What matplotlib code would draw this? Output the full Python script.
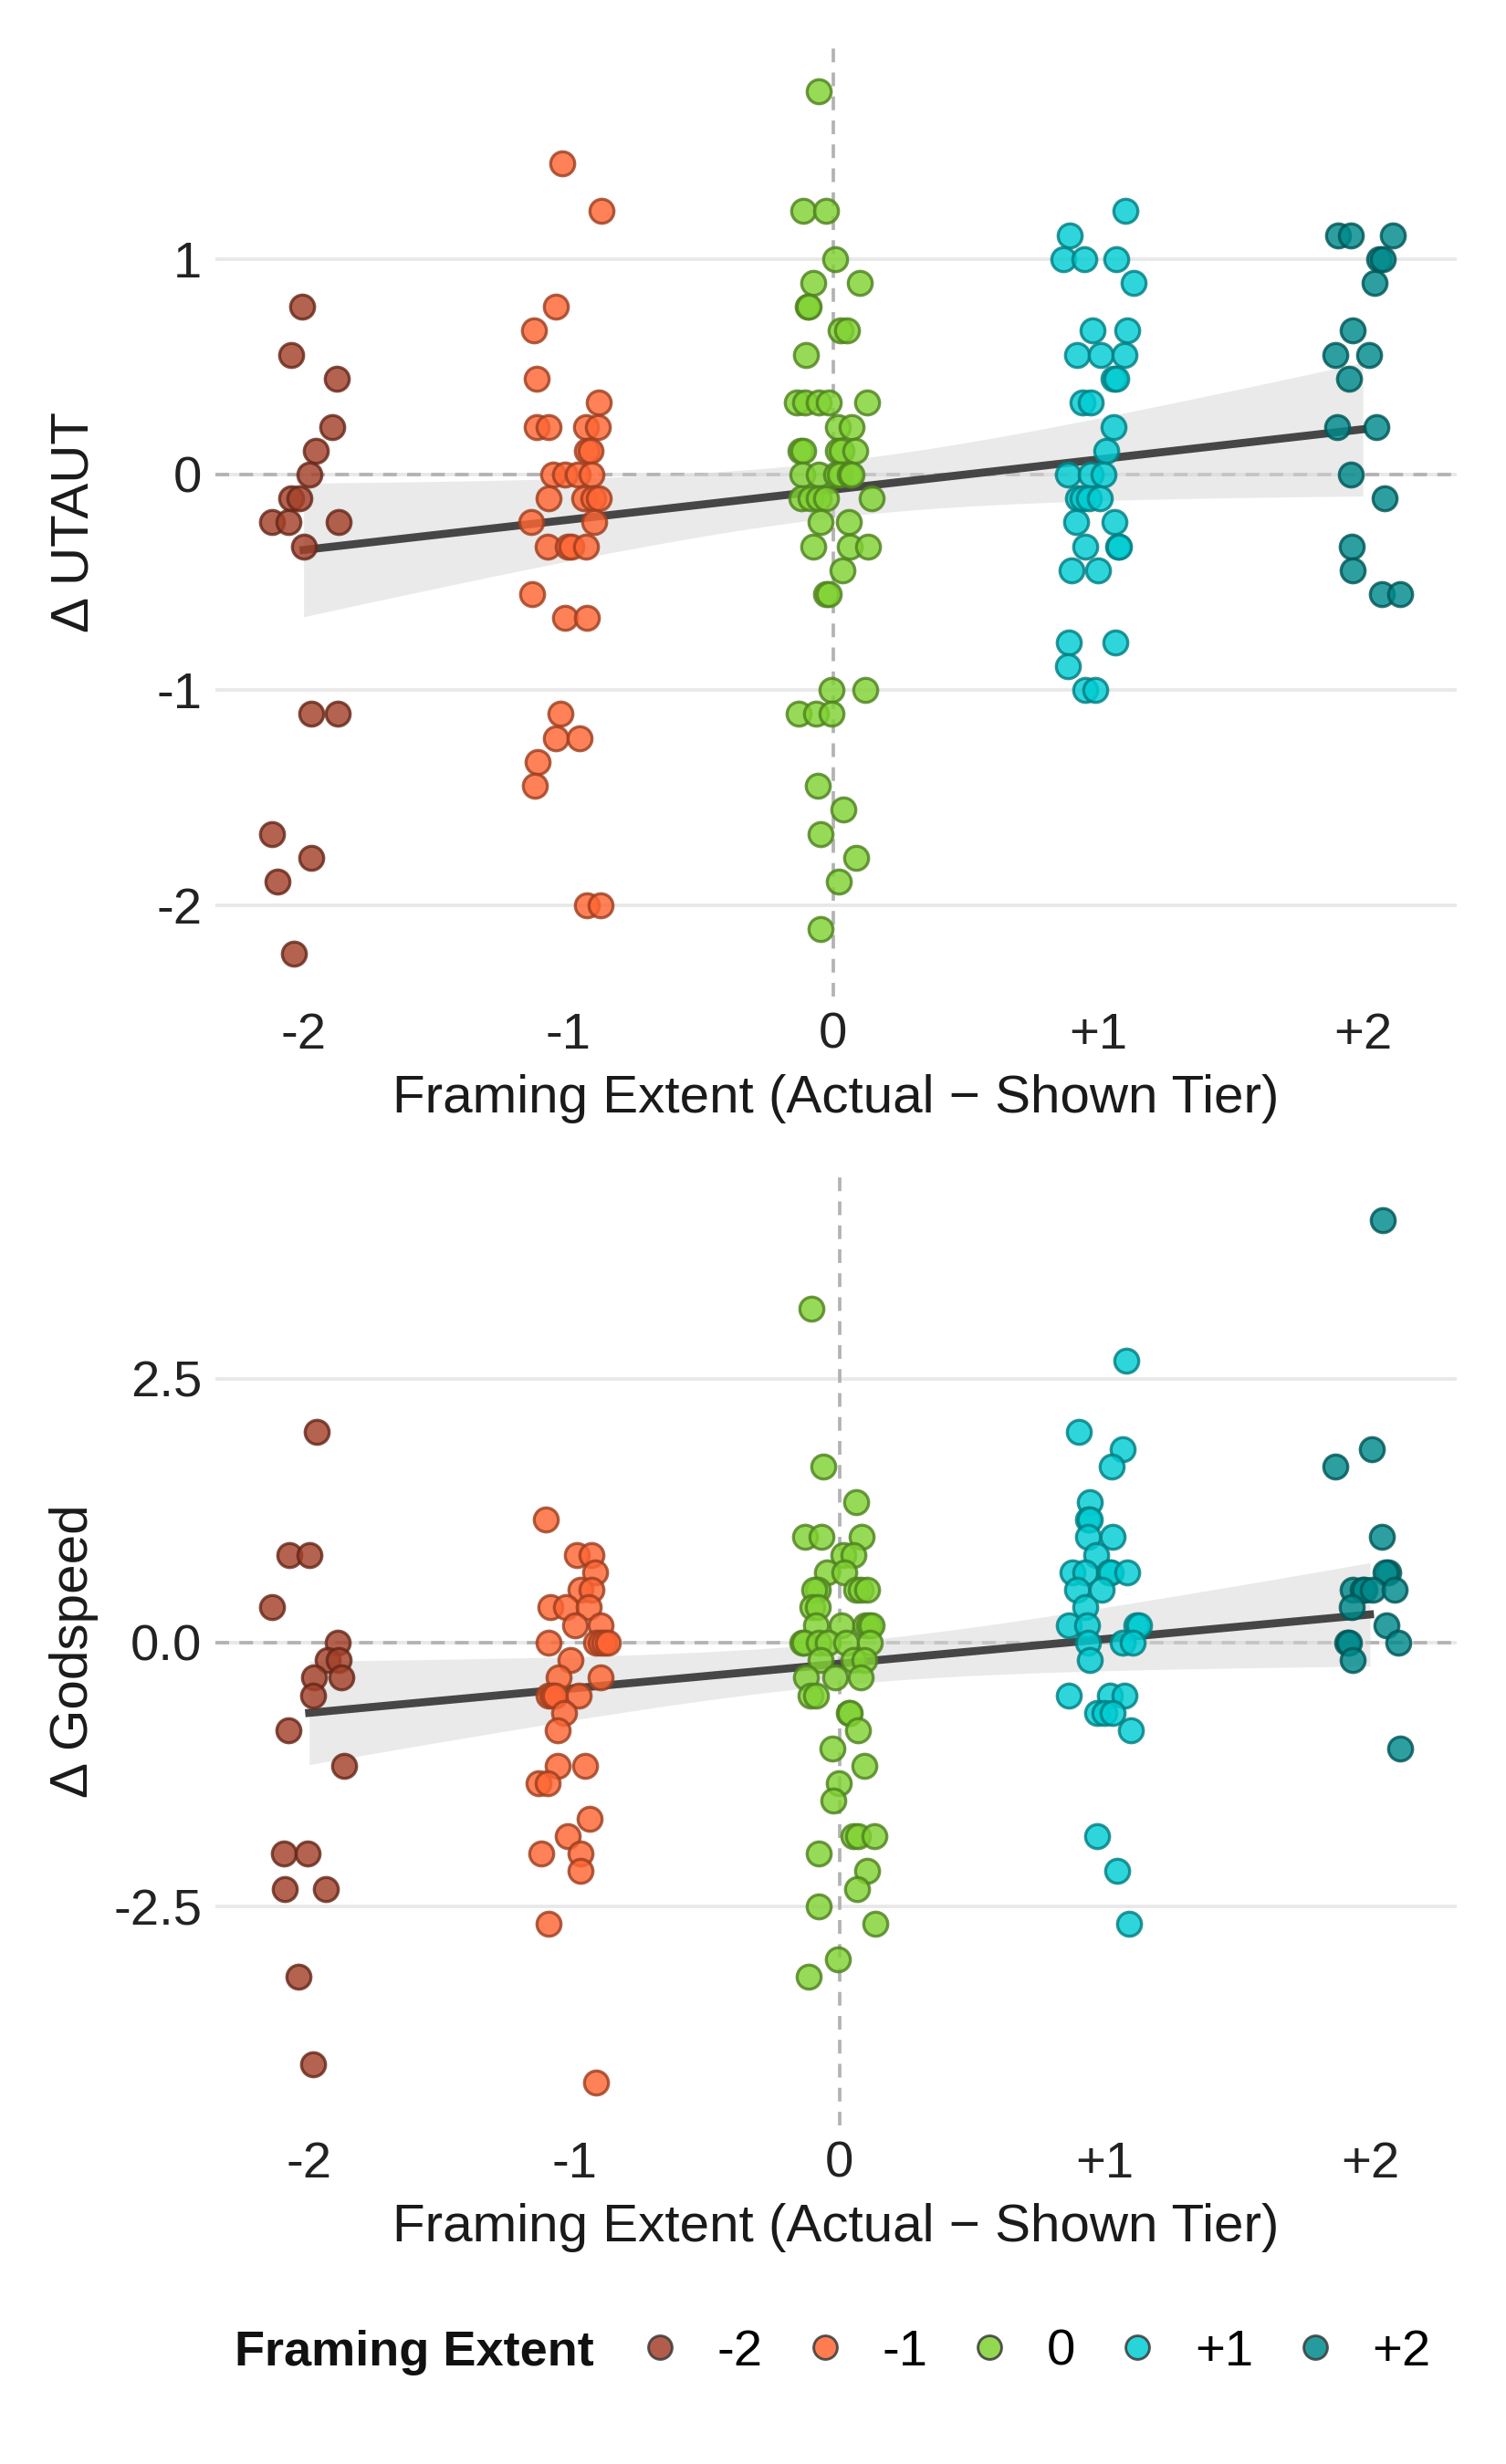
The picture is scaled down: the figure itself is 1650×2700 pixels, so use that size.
import numpy as np
import matplotlib
matplotlib.use("Agg")
import matplotlib.pyplot as plt
from matplotlib.lines import Line2D
import matplotlib.colors as mcolors

plt.rcParams["font.family"] = ["Liberation Sans", "DejaVu Sans"]
plt.rcParams["axes.unicode_minus"] = False

# ---------------- data ----------------
LEVELS = [-2, -1, 0, 1, 2]
LEVEL_LABELS = ["-2", "-1", "0", "+1", "+2"]
COLORS = ["#A4412A", "#FF6533", "#80D232", "#00CDD3", "#008A8C"]

# Delta UTAUT (x = jittered framing extent as drawn, y = value)
UT_M2_X = [-2.004, -2.048, -1.875, -1.890, -1.953, -1.979, -2.048, -2.016, -2.120, -2.056,
           -1.866, -2.000, -1.970, -1.870, -2.120, -1.970, -2.097, -2.038]
UT_M2_Y = [0.778, 0.556, 0.444, 0.222, 0.111, 0.0, -0.111, -0.111, -0.222, -0.222,
           -0.222, -0.333, -1.111, -1.111, -1.667, -1.778, -1.889, -2.222]

UT_M1_X = [-1.022, -0.875, -1.048, -1.129, -1.120, -0.884, -1.120, -1.074, -0.933, -0.890,
           -0.930, -0.918, -1.056, -1.014, -0.964, -0.913, -1.076, -0.941, -0.907, -0.884,
           -1.139, -0.901, -1.079, -1.004, -0.987, -0.933, -1.136, -1.012, -0.929, -1.031,
           -1.047, -0.956, -1.117, -1.128, -0.930, -0.877]
UT_M1_Y = [1.444, 1.222, 0.778, 0.667, 0.444, 0.333, 0.222, 0.222, 0.222, 0.222,
           0.111, 0.111, 0.0, 0.0, 0.0, 0.0, -0.111, -0.111, -0.111, -0.111,
           -0.222, -0.222, -0.333, -0.333, -0.333, -0.333, -0.556, -0.667, -0.667, -1.111,
           -1.222, -1.222, -1.333, -1.444, -2.0, -2.0]

UT_0_X = [-0.053, -0.114, -0.028, 0.007, -0.077, 0.101, -0.097, -0.091, 0.028, 0.053,
          -0.104, -0.137, -0.108, -0.054, -0.016, 0.128, 0.018, 0.070, -0.125, -0.114,
          0.018, 0.030, 0.082, -0.116, -0.054, 0.012, 0.023, 0.062, 0.070, -0.120,
          -0.085, -0.056, -0.028, 0.145, -0.047, 0.059, -0.077, 0.061, 0.130, 0.036,
          -0.028, -0.016, -0.008, 0.122, -0.131, -0.066, -0.008, -0.059, 0.038, -0.048,
          0.087, 0.021, -0.048]
UT_0_Y = [1.778, 1.222, 1.222, 1.0, 0.889, 0.889, 0.778, 0.778, 0.667, 0.667,
          0.556, 0.333, 0.333, 0.333, 0.333, 0.333, 0.222, 0.222, 0.111, 0.111,
          0.111, 0.111, 0.111, 0.0, 0.0, 0.0, 0.0, 0.0, 0.0, -0.111,
          -0.111, -0.111, -0.111, -0.111, -0.222, -0.222, -0.333, -0.333, -0.333, -0.444,
          -0.556, -0.556, -1.0, -1.0, -1.111, -1.111, -1.111, -1.444, -1.556, -1.667,
          -1.778, -1.889, -2.111]

UT_P1_X = [1.103, 0.893, 0.869, 0.947, 1.070, 1.134, 0.979, 1.109, 0.921, 1.010,
           1.100, 1.057, 1.070, 0.940, 0.974, 1.060, 1.032, 0.885, 0.972, 1.019,
           0.924, 0.941, 0.967, 1.008, 0.918, 1.063, 0.951, 1.076, 1.080, 0.901,
           1.001, 0.890, 1.066, 0.885, 0.953, 0.990]
UT_P1_Y = [1.222, 1.111, 1.0, 1.0, 1.0, 0.889, 0.667, 0.667, 0.556, 0.556,
           0.556, 0.444, 0.444, 0.333, 0.333, 0.222, 0.111, 0.0, 0.0, 0.0,
           -0.111, -0.111, -0.111, -0.111, -0.222, -0.222, -0.333, -0.333, -0.333, -0.444,
           -0.444, -0.778, -0.778, -0.889, -1.0, -1.0]

UT_P2_X = [1.907, 1.953, 2.113, 2.061, 2.076, 2.044, 1.963, 1.897, 2.024, 1.948,
           1.903, 2.052, 1.956, 2.082, 1.959, 1.963, 2.072, 2.141]
UT_P2_Y = [1.111, 1.111, 1.111, 1.0, 1.0, 0.889, 0.667, 0.556, 0.556, 0.444,
           0.222, 0.222, 0.0, -0.111, -0.333, -0.444, -0.556, -0.556]

# Delta Godspeed
GS_M2_X = [-1.971, -2.076, -1.999, -2.141, -1.892, -1.929, -1.890, -1.982, -1.880, -1.985,
           -2.077, -1.869, -2.096, -2.006, -2.093, -1.938, -2.039, -1.985]
GS_M2_Y = [2.0, 0.833, 0.833, 0.333, 0.0, -0.167, -0.167, -0.333, -0.333, -0.5,
           -0.833, -1.167, -2.0, -2.0, -2.333, -2.333, -3.167, -4.0]

GS_M1_X = [-1.109, -0.992, -0.937, -0.922, -0.977, -0.937, -1.090, -1.033, -0.947, -0.996,
           -0.901, -1.096, -0.918, -0.901, -0.889, -0.872, -1.016, -1.061, -0.901, -1.098,
           -1.084, -1.073, -0.983, -1.038, -1.062, -1.063, -0.958, -1.136, -1.100, -0.941,
           -1.024, -1.126, -0.977, -0.978, -1.098, -0.918]
GS_M1_Y = [1.167, 0.833, 0.833, 0.667, 0.5, 0.5, 0.333, 0.333, 0.333, 0.167,
           0.167, 0.0, 0.0, 0.0, 0.0, 0.0, -0.167, -0.333, -0.333, -0.5,
           -0.5, -0.5, -0.5, -0.667, -0.833, -1.167, -1.167, -1.333, -1.333, -1.667,
           -1.833, -2.0, -2.0, -2.167, -2.667, -4.167]

GS_0_X = [-0.106, -0.063, 0.063, -0.131, -0.069, 0.083, 0.013, 0.052, -0.046, 0.017,
          -0.082, -0.095, 0.063, 0.080, 0.103, -0.101, -0.083, -0.089, 0.006, 0.097,
          0.109, 0.120, -0.140, -0.132, -0.080, -0.044, 0.023, 0.115, -0.071, 0.052,
          0.094, -0.126, -0.015, 0.080, -0.109, -0.089, 0.034, 0.040, 0.071, -0.028,
          0.095, -0.003, -0.022, 0.052, 0.069, 0.132, -0.077, 0.103, 0.065, -0.078,
          0.135, -0.006, -0.118]
GS_0_Y = [3.167, 1.667, 1.333, 1.0, 1.0, 1.0, 0.833, 0.833, 0.667, 0.667,
          0.5, 0.5, 0.5, 0.5, 0.5, 0.333, 0.333, 0.167, 0.167, 0.167,
          0.167, 0.167, 0.0, 0.0, 0.0, 0.0, 0.0, 0.0, -0.167, -0.167,
          -0.167, -0.333, -0.333, -0.333, -0.5, -0.5, -0.667, -0.667, -0.833, -1.0,
          -1.167, -1.333, -1.5, -1.833, -1.833, -1.833, -2.0, -2.167, -2.333, -2.5,
          -2.667, -3.0, -3.167]

GS_P1_X = [1.082, 0.903, 1.066, 1.027, 0.942, 0.936, 0.944, 0.936, 1.030, 0.966,
           0.877, 0.927, 1.016, 1.023, 1.084, 0.897, 0.989, 0.926, 0.864, 0.933,
           1.119, 1.130, 0.935, 1.067, 1.107, 0.944, 0.863, 1.019, 1.076, 0.972,
           0.998, 1.030, 1.100, 0.971, 1.046, 1.091]
GS_P1_Y = [2.667, 2.0, 1.833, 1.667, 1.333, 1.167, 1.167, 1.0, 1.0, 0.833,
           0.667, 0.667, 0.667, 0.667, 0.667, 0.5, 0.5, 0.333, 0.167, 0.167,
           0.167, 0.167, 0.0, 0.0, 0.0, -0.167, -0.5, -0.5, -0.5, -0.667,
           -0.667, -0.667, -0.833, -1.833, -2.167, -2.667]

GS_P2_X = [2.048, 2.008, 1.868, 2.045, 2.068, 2.060, 1.934, 1.974, 1.980, 2.010,
           2.094, 1.930, 2.062, 1.915, 1.920, 2.108, 1.936, 2.114]
GS_P2_Y = [4.0, 1.833, 1.667, 1.0, 0.667, 0.667, 0.5, 0.5, 0.5, 0.5,
           0.5, 0.333, 0.167, 0.0, 0.0, 0.0, -0.167, -1.0]

# Trend lines: intercept, slope,
# CI half-width at x=0 and at x=+/-2
UT_FIT = [-0.070, 0.140]
UT_CI_HALF = [0.13, 0.31]
GS_FIT = [-0.200, 0.233]
GS_CI_HALF = [0.20, 0.49]

UT_X = [UT_M2_X, UT_M1_X, UT_0_X, UT_P1_X, UT_P2_X]
UT_Y = [UT_M2_Y, UT_M1_Y, UT_0_Y, UT_P1_Y, UT_P2_Y]
GS_X = [GS_M2_X, GS_M1_X, GS_0_X, GS_P1_X, GS_P2_X]
GS_Y = [GS_M2_Y, GS_M1_Y, GS_0_Y, GS_P1_Y, GS_P2_Y]


def darker(c, f=0.62):
    r, g, b = mcolors.to_rgb(c)
    return (r * f, g * f, b * f)


def panel(ax, xs, ys, fit, ci_half, ylabel, yticks, yticklabels):
    ax.set_axisbelow(True)
    ax.yaxis.grid(True, color="#e8e8e8", lw=0.9)
    ax.xaxis.grid(False)
    for s in ax.spines.values():
        s.set_visible(False)
    ax.axhline(0, color="#b3b3b3", lw=0.9, ls=(0, (4, 3)), zorder=1)
    ax.axvline(0, color="#b3b3b3", lw=0.9, ls=(0, (4, 3)), zorder=1)

    xg = np.linspace(min(LEVELS), max(LEVELS), 100)
    yg = fit[0] + fit[1] * xg
    h0, h2 = ci_half
    hw = np.sqrt(h0 ** 2 + (h2 ** 2 - h0 ** 2) * (xg / 2.0) ** 2)
    ax.fill_between(xg, yg - hw, yg + hw, color="#d6d6d6", alpha=0.5, lw=0, zorder=2)
    ax.plot(xg, yg, color="#464646", lw=2.1, zorder=2.5)

    for x, y, c in zip(xs, ys, COLORS):
        ax.scatter(x, y, s=40, color=c, alpha=0.82, edgecolors=darker(c),
                   linewidths=0.8, zorder=3)

    ax.set_xticks(LEVELS)
    ax.set_xticklabels(LEVEL_LABELS)
    ax.set_yticks(yticks)
    ax.set_yticklabels(yticklabels)
    ax.tick_params(axis="both", length=0, labelsize=13.5, colors="#222222")
    ax.tick_params(axis="x", pad=4)
    ax.tick_params(axis="y", pad=3.5)
    ax.set_xlabel("Framing Extent (Actual \u2212 Shown Tier)", fontsize=14,
                  color="#1a1a1a", labelpad=4)
    ax.set_ylabel(ylabel, fontsize=14, color="#1a1a1a")
    ax.yaxis.set_label_coords(-0.094, 0.5)


fig = plt.figure(figsize=(5.5, 9), dpi=300)
ax1 = fig.add_axes([0.143, 0.5956, 0.8242, 0.3848])
ax2 = fig.add_axes([0.143, 0.1374, 0.8242, 0.3848])

panel(ax1, UT_X, UT_Y, UT_FIT, UT_CI_HALF, "\u0394 UTAUT",
      [-2, -1, 0, 1], ["-2", "-1", "0", "1"])
panel(ax2, GS_X, GS_Y, GS_FIT, GS_CI_HALF, "\u0394 Godspeed",
      [-2.5, 0, 2.5], ["-2.5", "0.0", "2.5"])

handles = [Line2D([0], [0], marker="o", ls="none", markersize=6.2,
                  markerfacecolor=c, markeredgecolor="#3a3a3a", markeredgewidth=0.7,
                  alpha=0.85)
           for c in COLORS]
fig.text(0.156, 0.0452, "Framing Extent", fontsize=13, fontweight="bold",
         va="center", ha="left", color="#111111")
fig.legend(handles, LEVEL_LABELS, loc="center left", bbox_to_anchor=(0.4245, 0.0452),
           ncol=5, frameon=False, fontsize=13.5, handlelength=0.8, handletextpad=0.72,
           columnspacing=0.8, borderaxespad=0, borderpad=0)

fig.savefig("out.png", dpi=300, facecolor="white")
